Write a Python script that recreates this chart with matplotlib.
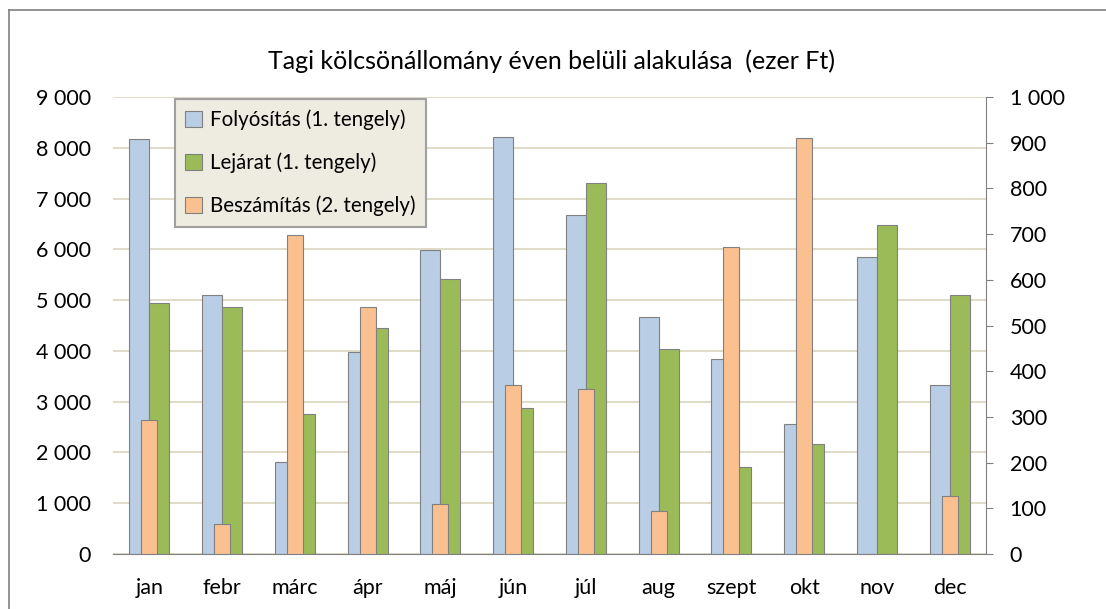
import matplotlib.pyplot as plt
import matplotlib.ticker as mticker
import numpy as np

plt.rcParams['font.family'] = ['Lato', 'DejaVu Sans']

honapok = ['jan', 'febr', 'márc', 'ápr', 'máj', 'jún',
           'júl', 'aug', 'szept', 'okt', 'nov', 'dec']
folyositas = [8170, 5110, 1820, 3970, 5990, 8210, 6670, 4660, 3850, 2570, 5845, 3335]
lejarat = [4940, 4860, 2765, 4460, 5410, 2870, 7300, 4040, 1710, 2165, 6475, 5095]
beszamitas = [293, 66, 697, 540, 109, 369, 362, 95, 671, 910, 0, 128]

kek = '#b9cde5'
zold = '#9bbb59'
narancs = '#fac090'
szurke = '#808080'

fig = plt.figure(figsize=(11.06, 6.09), dpi=100)
ax1 = fig.add_axes([113 / 1106, 55 / 609, 873 / 1106, 457 / 609])
ax2 = ax1.twinx()

x = np.arange(len(honapok))
w = 0.275
ax1.bar(x - w / 2, folyositas, w, color=kek, edgecolor=szurke, linewidth=0.8,
        label='Folyósítás (1. tengely)')
ax1.bar(x + w / 2, lejarat, w, color=zold, edgecolor=szurke, linewidth=0.8,
        label='Lejárat (1. tengely)')
ax2.bar(x, beszamitas, 0.22, color=narancs, edgecolor=szurke, linewidth=0.8,
        label='Beszámítás (2. tengely)')

ax1.set_xlim(-0.5, 11.5)
ax1.set_ylim(0, 9000)
ax2.set_ylim(0, 1000)
ax1.set_yticks(range(0, 9001, 1000))
ax2.set_yticks(range(0, 1001, 100))

fmt = mticker.FuncFormatter(lambda v, p: f'{int(v):,}'.replace(',', ' '))
ax1.yaxis.set_major_formatter(fmt)
ax2.yaxis.set_major_formatter(fmt)

ax1.set_xticks(x)
ax1.set_xticklabels(honapok)
ax1.tick_params(axis='x', length=0, pad=17, labelsize=15.5)
ax1.tick_params(axis='y', length=0, pad=16, labelsize=15.5)
ax2.tick_params(axis='y', length=5, width=0.8, color=szurke, pad=12, labelsize=15.5)

ax1.grid(axis='y', color='#ddd9c3', linewidth=1.3)
ax1.set_axisbelow(True)

for s in ['top', 'left', 'right']:
    ax1.spines[s].set_visible(False)
    ax2.spines[s].set_visible(False)
ax1.spines['bottom'].set_color(szurke)
ax2.spines['bottom'].set_visible(False)
ax2.spines['right'].set_visible(True)
ax2.spines['right'].set_color(szurke)

fig.text(551 / 1106, 1 - 61 / 609, 'Tagi kölcsönállomány éven belüli alakulása  (ezer Ft)',
         ha='center', va='center', fontsize=18)

# keret
fig.add_artist(plt.Line2D([9 / 1106, 1.0], [1 - 10 / 609] * 2, color=szurke, linewidth=1.2))
fig.add_artist(plt.Line2D([9 / 1106] * 2, [0, 1 - 10 / 609], color=szurke, linewidth=1.2))

h1, l1 = ax1.get_legend_handles_labels()
h2, l2 = ax2.get_legend_handles_labels()
leg = ax2.legend(h1 + h2, l1 + l2, loc='upper left',
                 bbox_to_anchor=(175 / 1106, 1 - 99 / 609), bbox_transform=fig.transFigure,
                 fontsize=14.8, frameon=True, fancybox=False, borderaxespad=0,
                 handlelength=0.8, handleheight=0.8, handletextpad=0.4,
                 labelspacing=1.1, borderpad=0.5)
leg.get_frame().set_facecolor('#eeece1')
leg.get_frame().set_edgecolor('#a0a0a0')
leg.get_frame().set_linewidth(1.5)
leg.get_frame().set_alpha(1)

fig.savefig('out.png', dpi=100)
